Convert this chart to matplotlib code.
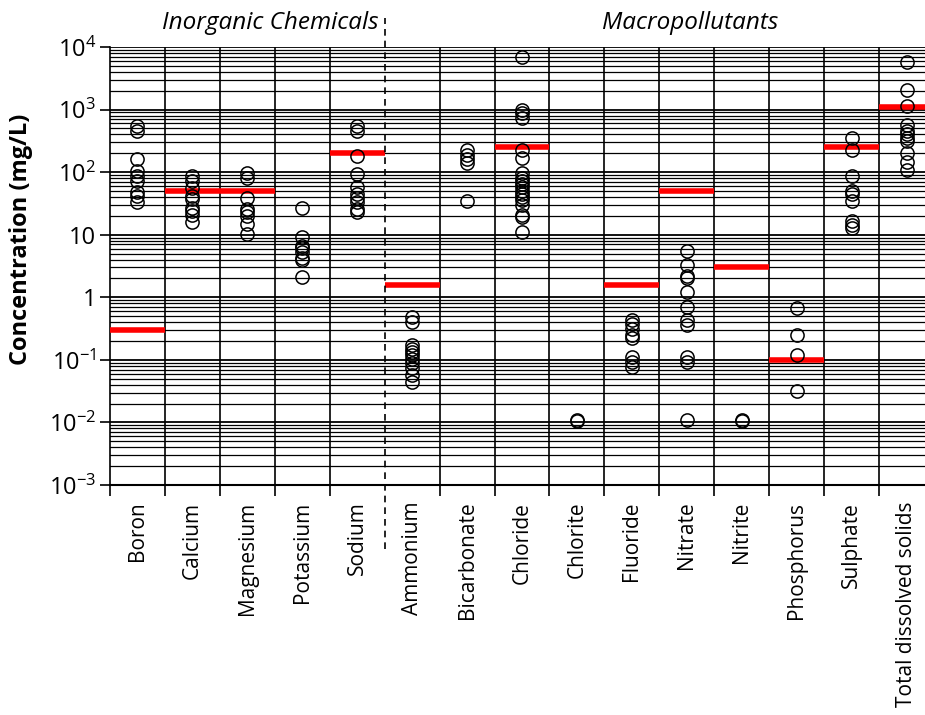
import matplotlib
matplotlib.use('Agg')
import matplotlib.pyplot as plt
import matplotlib.ticker as mticker
import matplotlib.transforms as mtransforms

plt.rcParams['font.family'] = ['Open Sans', 'DejaVu Sans']
plt.rcParams['mathtext.fontset'] = 'custom'
plt.rcParams['mathtext.rm'] = 'Open Sans'

# ******************** DATA ********************
categories = ['Boron', 'Calcium', 'Magnesium', 'Potassium', 'Sodium',
              'Ammonium', 'Bicarbonate', 'Chloride', 'Chlorite', 'Fluoride',
              'Nitrate', 'Nitrite', 'Phosphorus', 'Sulphate', 'Total dissolved solids']

boron = [550, 450, 160, 104, 86, 72, 48, 42, 33]
calcium = [87, 72, 55, 42, 37, 27, 24, 21, 16]
magnesium = [98, 82, 39, 26, 23, 20, 15, 10.3]
potassium = [27, 9.1, 6.7, 6.1, 5.2, 4.2, 3.9, 2.1]
sodium = [540, 450, 180, 92, 57, 44, 39, 33, 26, 23]
ammonium = [0.48, 0.40, 0.17, 0.15, 0.135, 0.12, 0.105, 0.088, 0.073, 0.057, 0.045]
bicarbonate = [230, 190, 160, 140, 35]
chloride = [7000, 1000, 880, 740, 230, 170, 98, 80, 72, 64, 58, 50, 45, 40, 36, 30, 21, 19, 11]
chlorite = [0.0105, 0.011]
fluoride = [0.44, 0.37, 0.31, 0.25, 0.22, 0.11, 0.094, 0.078]
nitrate = [5.4, 3.3, 2.2, 2.0, 1.2, 0.7, 0.43, 0.36, 0.11, 0.093, 0.011]
nitrite = [0.0105, 0.011]
phosphorus = [0.68, 0.25, 0.12, 0.032]
sulphate = [350, 230, 87, 50, 44, 35, 16.7, 14.2, 12.8]
tds = [5800, 2070, 1150, 575, 450, 400, 350, 312, 204, 147, 107]

measured = [boron, calcium, magnesium, potassium, sodium, ammonium, bicarbonate,
            chloride, chlorite, fluoride, nitrate, nitrite, phosphorus, sulphate, tds]

# guideline values (red bars), None where no guideline
guidelines = [0.3, 50, 50, None, 200, 1.6, None, 250, None, 1.6, 50, 3, 0.1, 250, 1100]

ytick_vals = [1e-3, 1e-2, 1e-1, 1, 10, 1e2, 1e3, 1e4]
ytick_labels = [r'$\mathregular{10^{-3}}$', r'$\mathregular{10^{-2}}$', r'$\mathregular{10^{-1}}$',
                '1', '10', r'$\mathregular{10^{2}}$', r'$\mathregular{10^{3}}$', r'$\mathregular{10^{4}}$']

# ******************** FIGURE ********************
fig = plt.figure(figsize=(9.25, 7.15), dpi=100)
ax = fig.add_axes([110 / 925, 230 / 715, 824 / 925, 438 / 715])
ax.set_yscale('log')
ax.set_ylim(1e-3, 1e4)
ax.set_xlim(-0.5, len(categories) - 0.5)

# horizontal grid (major + minor)
ax.yaxis.set_major_locator(mticker.FixedLocator(ytick_vals))
ax.yaxis.set_minor_locator(mticker.LogLocator(base=10, subs=range(2, 10), numticks=20))
ax.yaxis.set_minor_formatter(mticker.NullFormatter())
ax.set_yticks(ytick_vals)
ax.set_yticklabels(ytick_labels)
ax.grid(True, which='major', axis='y', color='black', linewidth=1.3)
ax.grid(True, which='minor', axis='y', color='black', linewidth=0.9)
ax.tick_params(axis='y', which='major', length=7, width=1.2, labelsize=17, pad=3)
ax.tick_params(axis='y', which='minor', length=0)

# vertical separators
for i in range(len(categories)):
    b = i + 0.5
    if b != 4.5:
        ax.axvline(b, color='black', linewidth=1.2, zorder=1)

ax.set_xticks(range(len(categories)))
ax.set_xticklabels(categories, rotation=90, fontsize=15)
ax.tick_params(axis='x', which='major', length=0, pad=12)
sep_ticks = [b - 0.5 for b in range(len(categories) + 1) if b - 0.5 != 4.5]
ax.set_xticks(sep_ticks, minor=True)
ax.tick_params(axis='x', which='minor', length=8, width=1.2)

for side in ['top', 'right']:
    ax.spines[side].set_visible(False)
ax.spines['left'].set_linewidth(1.2)
ax.spines['bottom'].set_linewidth(1.5)

# guideline bars
for i, g in enumerate(guidelines):
    if g is not None:
        ax.hlines(g, i - 0.5, i + 0.5, colors='#ff0000', linewidth=4, zorder=3)

# measured points
for i, vals in enumerate(measured):
    ax.plot([i] * len(vals), vals, 'o', markersize=9.5, markerfacecolor='none',
            markeredgecolor='black', markeredgewidth=1.1, zorder=4, linestyle='none')

# dashed divider between groups
trans = mtransforms.blended_transform_factory(ax.transData, ax.transAxes)
ax.plot([4.5, 4.5], [-0.145, 1.066], transform=trans, color='black',
        linestyle=(0, (4, 3)), linewidth=1.2, clip_on=False, zorder=5)

ax.set_ylabel('Concentration (mg/L)', fontsize=17, fontweight='bold')
ax.yaxis.set_label_coords(-0.093, 0.56)

fig.text(270 / 925, 1 - 23 / 715, 'Inorganic Chemicals', style='italic', fontsize=17.5,
         ha='center', va='center')
fig.text(690 / 925, 1 - 23 / 715, 'Macropollutants', style='italic', fontsize=17.5,
         ha='center', va='center')

fig.savefig('out.png', dpi=100)
